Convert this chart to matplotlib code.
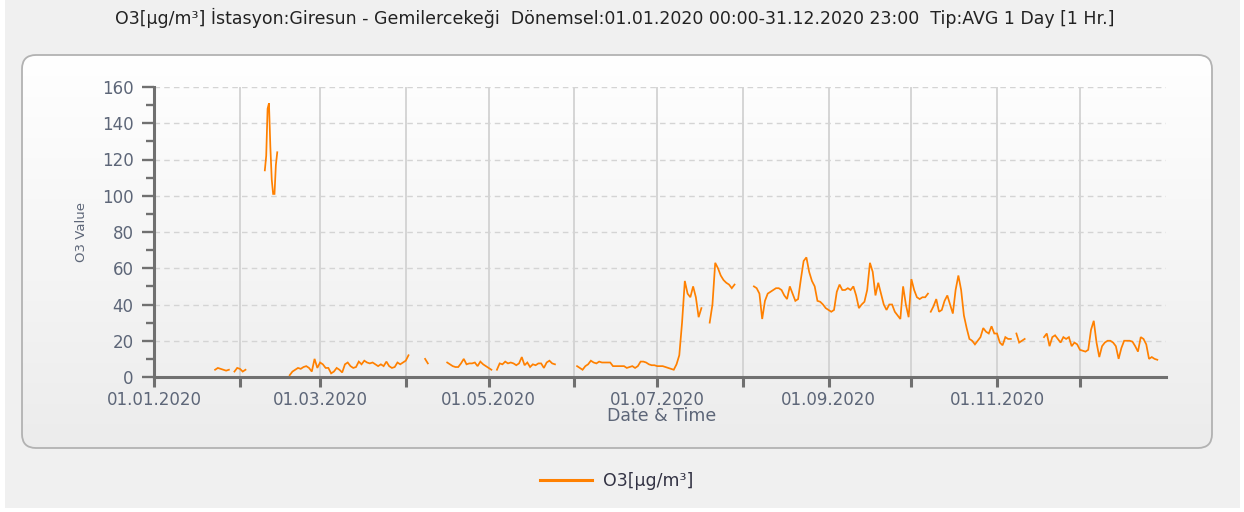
import matplotlib
matplotlib.use('Agg')
import matplotlib.pyplot as plt
import matplotlib.dates as mdates
from matplotlib.patches import FancyBboxPatch, Rectangle
from matplotlib.lines import Line2D
from matplotlib.ticker import MultipleLocator, FixedLocator, FixedFormatter
import numpy as np
import pandas as pd

# ---------------- data (O3 daily averages, µg/m³) ----------------
seg_a_start = '2020-01-23'
seg_a = [4, 5, 4.5, 4, 3.5, 4]
seg_b_start = '2020-01-30'
seg_b = [3, 5, 4.5, 3, 4]
seg_spike_start = '2020-02-10'          # 12-hour resolution
seg_spike = [114, 122, 148, 151, 127, 109, 101, 101, 117, 124]
seg_c_start = '2020-02-19'
seg_c = [1, 3, 4, 5, 4.5, 5.5, 6, 5, 3, 10, 5, 8, 7, 5, 5, 2, 3, 5, 4, 2.5,
         7, 8, 6, 5, 5.5, 8.5, 7, 9, 8, 7.5, 8, 7, 6, 7, 6, 8.5, 6, 5, 5.5, 8,
         7, 8, 9, 12]
seg_d_start = '2020-04-08'
seg_d = [10, 7.5]
seg_e_start = '2020-04-16'
seg_e = [8, 7, 6, 5.5, 5.5, 7.5, 10, 7, 7.5, 7.5, 8, 6, 8.5, 7, 6, 5, 4]
seg_f_start = '2020-05-04'
seg_f = [4, 7.5, 7, 8.5, 7.5, 8, 7.5, 6.5, 7.5, 11, 6.5, 8, 5.5, 7, 6.5, 7.5,
         7.5, 5, 8, 9, 7.5, 7]
seg_g_start = '2020-06-02'
seg_g = [6, 5, 4, 6, 7, 9, 8, 7.5, 8.5, 8, 8, 8, 8, 6, 6, 6, 6, 6, 5, 5.5,
         6, 5, 6, 8.5, 8.5, 8, 7, 6.5, 6.5, 6, 6, 6, 5.5, 5, 4.5, 4, 7, 12, 30, 53,
         46, 44, 50, 44, 33, 38]
seg_h_start = '2020-07-20'
seg_h = [30, 40, 63, 60, 56, 53.5, 52, 51, 49, 51]
seg_i_start = '2020-08-05'
seg_i = [50, 49, 46, 32, 42, 46, 47, 48, 49, 49, 48, 45, 43, 50, 46, 42, 43, 54, 64, 66,
         58, 53, 50, 42, 41.5, 40, 38, 37, 36, 37, 47, 51, 48, 48, 49, 48, 50, 45, 38, 40,
         41.5, 48, 63, 58, 45, 52, 46, 40, 37, 40, 40, 36, 34, 32, 50, 40, 33, 54, 48, 44,
         43, 44, 44, 46]
seg_j_start = '2020-10-08'
seg_j = [36, 39, 43, 36, 37, 42, 45, 40, 35, 48, 56, 48, 34, 27, 21, 20, 18, 20, 22, 27,
         25, 24, 28, 24, 24, 19, 17.5, 22, 21, 21]
seg_k_start = '2020-11-08'
seg_k = [24, 19, 20, 21]
seg_l_start = '2020-11-18'
seg_l = [22, 24, 17, 22, 23, 21, 19, 22, 21, 22, 17, 19, 18, 15, 14.5, 14, 15, 26, 31, 19,
         11, 17, 19, 20, 20, 19, 17, 10, 16, 20, 20, 20, 19.5, 17, 14, 22, 21, 18, 10, 11,
         10, 9.5]

segments = [
    (seg_a_start, '1D', seg_a), (seg_b_start, '1D', seg_b),
    (seg_spike_start, '12h', seg_spike), (seg_c_start, '1D', seg_c),
    (seg_d_start, '1D', seg_d), (seg_e_start, '1D', seg_e),
    (seg_f_start, '1D', seg_f), (seg_g_start, '1D', seg_g),
    (seg_h_start, '1D', seg_h), (seg_i_start, '1D', seg_i),
    (seg_j_start, '1D', seg_j), (seg_k_start, '1D', seg_k),
    (seg_l_start, '1D', seg_l),
]

month_ticks = ['2020-01-01', '2020-02-01', '2020-03-01', '2020-04-01', '2020-05-01',
               '2020-06-01', '2020-07-01', '2020-08-01', '2020-09-01', '2020-10-01',
               '2020-11-01', '2020-12-01']
month_labels = ['01.01.2020', '', '01.03.2020', '', '01.05.2020', '', '01.07.2020', '',
                '01.09.2020', '', '01.11.2020', '']

title = ('O3[µg/m³] İstasyon:Giresun - Gemilercekeği  Dönemsel:01.01.2020 00:00-'
         '31.12.2020 23:00  Tip:AVG 1 Day [1 Hr.]')
series_label = 'O3[µg/m³]'
y_label = 'O3 Value'
x_label = 'Date & Time'

# ---------------- figure ----------------
plt.rcParams['font.family'] = ['DejaVu Sans']
W, H = 1244, 512
fig = plt.figure(figsize=(W / 100, H / 100), dpi=100, facecolor='white')

bg = fig.add_axes([0, 0, 1, 1], zorder=0)
bg.axis('off')
bg.add_patch(Rectangle((5, 0), 1235, 508, facecolor='#f0f0f0', edgecolor='none'))
panel = FancyBboxPatch((22, 55), 1190, 393,
                       boxstyle='round,pad=0,rounding_size=14',
                       facecolor='none', edgecolor='#b2b2b2', lw=1.3, zorder=3)
bg.add_patch(panel)
grad = np.repeat(np.linspace(1.0, 0.925, 256)[:, None], 2, axis=1)
rgb = np.stack([grad, grad, grad], axis=-1)
im = bg.imshow(rgb, extent=(22, 1212, 448, 55), aspect='auto', zorder=1,
               interpolation='bilinear')
im.set_clip_path(panel)
bg.set_xlim(0, W)
bg.set_ylim(H, 0)

x0, x1 = 154.3, 1165.6
y0, y1 = 377, 87
ax = fig.add_axes([x0 / W, (H - y0) / H, (x1 - x0) / W, (y0 - y1) / H], zorder=1)
ax.patch.set_alpha(0)

line_color = '#ff8000'
for start, freq, vals in segments:
    idx = pd.date_range(start, periods=len(vals), freq=freq)
    ax.plot(idx, vals, color=line_color, lw=1.25, solid_joinstyle='miter', zorder=3)

ax.set_xlim(pd.Timestamp('2020-01-01'), pd.Timestamp('2021-01-01'))
ax.set_ylim(0, 160)

ax.xaxis.set_major_locator(FixedLocator(mdates.date2num(pd.to_datetime(month_ticks))))
ax.xaxis.set_major_formatter(FixedFormatter(month_labels))
ax.yaxis.set_major_locator(MultipleLocator(20))
ax.yaxis.set_minor_locator(MultipleLocator(10))

for s in ['top', 'right']:
    ax.spines[s].set_visible(False)
for s in ['left', 'bottom']:
    ax.spines[s].set_color('#707070')
    ax.spines[s].set_linewidth(2.2)

lab_col = '#5d6678'
ax.tick_params(axis='y', which='major', length=9, width=1.7, color='#707070',
               pad=6, labelsize=12, labelcolor=lab_col)
ax.tick_params(axis='y', which='minor', length=6, width=1.7, color='#707070')
ax.tick_params(axis='x', which='major', length=7, width=2.2, color='#707070',
               pad=3, labelsize=12, labelcolor=lab_col)

ax.set_axisbelow(True)
ax.grid(axis='x', which='major', color='#d2d2d2', lw=1.3, ls='-')
ax.grid(axis='y', which='major', color='#d4d4d4', lw=1.0, ls=(0, (4, 3)))

fig.text(615 / W, 1 - 18 / H, title, ha='center', va='center', fontsize=12.5,
         color='#222222')
fig.text(82 / W, 1 - 232 / H, y_label, rotation=90, ha='center', va='center',
         fontsize=9.5, color=lab_col)
fig.text(662 / W, 1 - 416 / H, x_label, ha='center', va='center', fontsize=12.5,
         color=lab_col)

handle = Line2D([], [], color=line_color, lw=2.2)
fig.legend([handle], [series_label], loc='center',
           bbox_to_anchor=(617 / W, 1 - 481 / H), frameon=False,
           fontsize=12.5, handlelength=3.0, handletextpad=0.65,
           labelcolor='#333344')

fig.savefig('out.png', dpi=100, facecolor=fig.get_facecolor())
